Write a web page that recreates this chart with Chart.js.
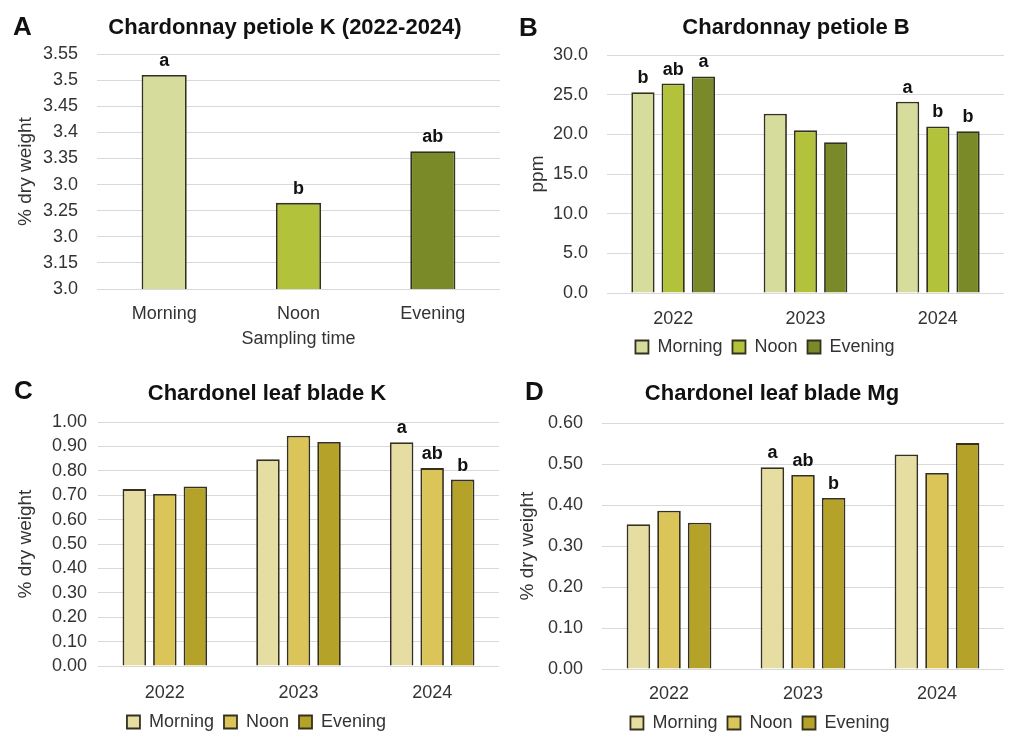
<!DOCTYPE html>
<html><head><meta charset="utf-8">
<script src="https://cdn.jsdelivr.net/npm/chart.js@4.4.1/dist/chart.umd.min.js"></script>
<style>
body{margin:0;background:#fff;width:1024px;height:754px;position:relative;overflow:hidden;font-family:"Liberation Sans",Arial,sans-serif}
.panel{position:absolute}
.lab{position:absolute;font-weight:bold;font-size:26px;line-height:30px;color:#111}
.ttl{position:absolute;font-weight:bold;font-size:22px;line-height:26px;color:#111;text-align:center;white-space:nowrap;width:500px}
</style></head><body>
<div class="panel" style="left:0;top:0;width:512px;height:362px"><canvas id="cA"></canvas></div>
<div class="panel" style="left:512px;top:0;width:512px;height:372px"><canvas id="cB"></canvas></div>
<div class="panel" style="left:0;top:362px;width:512px;height:392px"><canvas id="cC"></canvas></div>
<div class="panel" style="left:512px;top:362px;width:512px;height:392px"><canvas id="cD"></canvas></div>
<div class="lab" style="left:13px;top:11px">A</div>
<div class="lab" style="left:519px;top:12px">B</div>
<div class="lab" style="left:14px;top:375px">C</div>
<div class="lab" style="left:525px;top:376px">D</div>
<div class="ttl" style="left:35px;top:14px">Chardonnay petiole K (2022-2024)</div>
<div class="ttl" style="left:546px;top:14px">Chardonnay petiole B</div>
<div class="ttl" style="left:17px;top:380px">Chardonel leaf blade K</div>
<div class="ttl" style="left:522px;top:380px">Chardonel leaf blade Mg</div>
<script>
// ---------- data ----------
const timesA = ["Morning", "Noon", "Evening"];
const valuesA = [3.51, 3.265, 3.364];
const lettersA = ["a", "b", "ab"];
const tickLabelsA = ["3.0", "3.15", "3.0", "3.25", "3.0", "3.35", "3.4", "3.45", "3.5", "3.55"];

const years = ["2022", "2023", "2024"];
const seriesNames = ["Morning", "Noon", "Evening"];

const B_morning = [25.3, 22.6, 24.1];
const B_noon = [26.4, 20.5, 21.0];
const B_evening = [27.3, 19.0, 20.4];
const B_lettersMorning = ["b", "", "a"];
const B_lettersNoon = ["ab", "", "b"];
const B_lettersEvening = ["a", "", "b"];
const tickLabelsB = ["0.0", "5.0", "10.0", "15.0", "20.0", "25.0", "30.0"];

const C_morning = [0.725, 0.847, 0.917];
const C_noon = [0.705, 0.944, 0.811];
const C_evening = [0.736, 0.918, 0.764];
const C_lettersMorning = ["", "", "a"];
const C_lettersNoon = ["", "", "ab"];
const C_lettersEvening = ["", "", "b"];
const tickLabelsC = ["0.00", "0.10", "0.20", "0.30", "0.40", "0.50", "0.60", "0.70", "0.80", "0.90", "1.00"];

const D_morning = [0.353, 0.492, 0.523];
const D_noon = [0.386, 0.473, 0.478];
const D_evening = [0.357, 0.417, 0.551];
const D_lettersMorning = ["", "a", ""];
const D_lettersNoon = ["", "ab", ""];
const D_lettersEvening = ["", "b", ""];
const tickLabelsD = ["0.00", "0.10", "0.20", "0.30", "0.40", "0.50", "0.60"];

// ---------- styles ----------
const greens = ["#d5dc9c", "#b2c23a", "#7b8a28"];
const golds = ["#e6dda2", "#dcc558", "#b5a228"];
const BORDER = "#363020";
const GRID = "#d9d9d9";
const TXT = "#333333";
const FONT = "'Liberation Sans', Arial, sans-serif";

const sigPlugin = {
  id: "sig",
  afterDatasetsDraw(chart, args, opts) {
    const ctx = chart.ctx;
    ctx.save();
    ctx.font = "bold 18px " + FONT;
    ctx.fillStyle = "#111";
    ctx.textAlign = "center";
    ctx.textBaseline = "alphabetic";
    (opts.letters || []).forEach((arr, di) => {
      const meta = chart.getDatasetMeta(di);
      meta.data.forEach((el, i) => {
        const t = arr[i];
        if (t) ctx.fillText(t, el.x, el.y - 9);
      });
    });
    ctx.restore();
  }
};

function yScale(min, max, step, labels, width, pad, title) {
  return {
    min: min, max: max,
    ticks: { stepSize: step, padding: pad, autoSkip: false, color: TXT, font: { size: 18, family: FONT },
      callback: (v, i) => labels[i] },
    grid: { color: GRID, lineWidth: 1, drawTicks: false },
    border: { display: false },
    title: { display: true, text: title, color: TXT, font: { size: 19, family: FONT }, padding: 0 },
    afterFit: s => { s.width = width; }
  };
}
function xScale(height, pad, title, titlePadBottom) {
  const o = {
    ticks: { padding: pad, color: TXT, font: { size: 18, family: FONT } },
    grid: { display: false, drawTicks: false },
    border: { display: false },
    afterFit: s => { s.height = height; }
  };
  if (title) o.title = { display: true, text: title, color: TXT, font: { size: 18, family: FONT }, padding: { top: 0, bottom: titlePadBottom } };
  return o;
}
function legendOpts() {
  return {
    display: true, position: "bottom",
    labels: { boxWidth: 13, boxHeight: 13, padding: 10, color: TXT, font: { size: 18, family: FONT } }
  };
}
function groupDatasets(vals, colors) {
  return vals.map((v, k) => ({
    label: seriesNames[k], data: v, backgroundColor: colors[k], borderColor: BORDER, borderWidth: 1.8,
    categoryPercentage: 0.685, barPercentage: 0.77
  }));
}

Chart.defaults.animation = false;
Chart.defaults.font.family = FONT;

new Chart(document.getElementById("cA"), {
  type: "bar",
  data: { labels: timesA, datasets: [{ label: "K", data: valuesA, backgroundColor: greens, borderColor: BORDER, borderWidth: 1.8, categoryPercentage: 1, barPercentage: 0.336 }] },
  options: {
    responsive: true, maintainAspectRatio: false,
    layout: { padding: { left: 14, right: 12, top: 54, bottom: 0 } },
    plugins: { legend: { display: false }, tooltip: { enabled: false }, sig: { letters: [lettersA] } },
    scales: { y: yScale(3.10, 3.55, 0.05, tickLabelsA, 83, 19, "% dry weight"), x: xScale(73, 14, "Sampling time", 12) }
  },
  plugins: [sigPlugin]
});

new Chart(document.getElementById("cB"), {
  type: "bar",
  data: { labels: years, datasets: groupDatasets([B_morning, B_noon, B_evening], greens) },
  options: {
    responsive: true, maintainAspectRatio: false,
    layout: { padding: { left: 14, right: 20, top: 55, bottom: 6 } },
    plugins: { legend: legendOpts(), tooltip: { enabled: false }, sig: { letters: [B_lettersMorning, B_lettersNoon, B_lettersEvening] } },
    scales: { y: yScale(0, 30, 5, tickLabelsB, 81, 19, "ppm"), x: xScale(35, 15) }
  },
  plugins: [sigPlugin]
});

new Chart(document.getElementById("cC"), {
  type: "bar",
  data: { labels: years, datasets: groupDatasets([C_morning, C_noon, C_evening], golds) },
  options: {
    responsive: true, maintainAspectRatio: false,
    layout: { padding: { left: 14, right: 13, top: 60, bottom: 13 } },
    plugins: { legend: legendOpts(), tooltip: { enabled: false }, sig: { letters: [C_lettersMorning, C_lettersNoon, C_lettersEvening] } },
    scales: { y: yScale(0, 1, 0.1, tickLabelsC, 84, 11, "% dry weight"), x: xScale(37, 16) }
  },
  plugins: [sigPlugin]
});

new Chart(document.getElementById("cD"), {
  type: "bar",
  data: { labels: years, datasets: groupDatasets([D_morning, D_noon, D_evening], golds) },
  options: {
    responsive: true, maintainAspectRatio: false,
    layout: { padding: { left: 4, right: 20, top: 61, bottom: 12 } },
    plugins: { legend: legendOpts(), tooltip: { enabled: false }, sig: { letters: [D_lettersMorning, D_lettersNoon, D_lettersEvening] } },
    scales: { y: yScale(0, 0.6, 0.1, tickLabelsD, 86, 19, "% dry weight"), x: xScale(35, 14) }
  },
  plugins: [sigPlugin]
});
</script>
</body></html>
